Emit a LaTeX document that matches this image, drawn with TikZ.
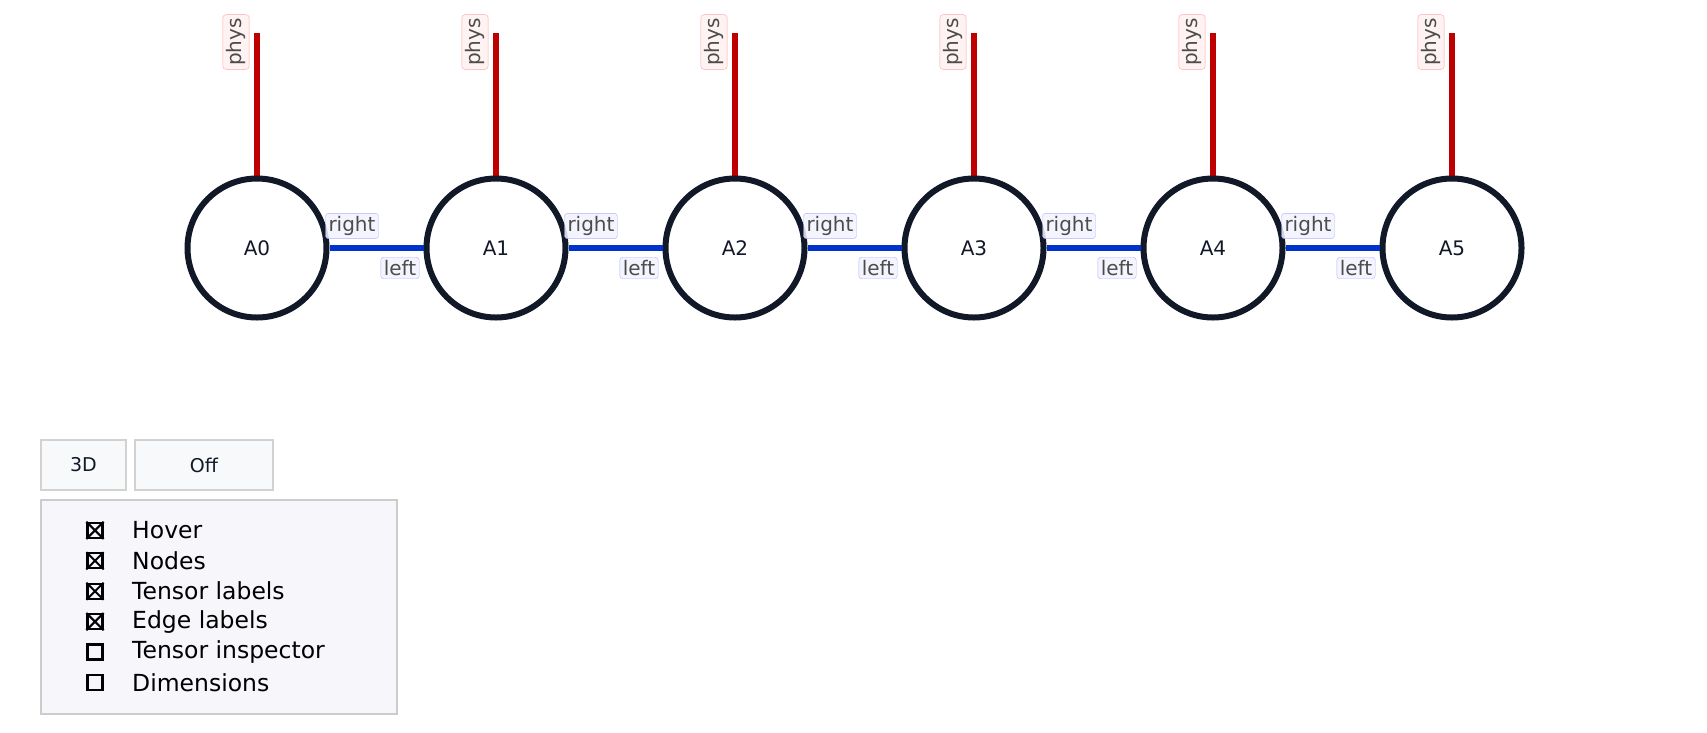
\documentclass[tikz,border=0pt]{standalone}
\usepackage{fontspec}
\setmainfont{DejaVu Sans}
\definecolor{panelbg}{RGB}{247,247,251}
\definecolor{btnbg}{RGB}{247,249,251}
\definecolor{ink}{RGB}{17,24,39}
\begin{document}
\begin{tikzpicture}[x=1pt,y=-1pt,
  tn/.style={circle,draw=ink,line width=6pt,fill=white,minimum size=139pt,inner sep=0pt,font=\fontsize{20}{24}\selectfont,text=ink},
  phys/.style={draw=red!75!black,line width=6pt},
  bond/.style={draw=blue!75!cyan!80!black,line width=6pt},
  plab/.style={draw=red!35,fill=red!5,rounded corners=3pt,font=\fontsize{20}{23}\selectfont,text=black!70,inner sep=3.5pt,rotate=90},
  blab/.style={draw=blue!30,fill=blue!5,fill opacity=0.85,text opacity=1,rounded corners=3pt,font=\fontsize{20}{23}\selectfont,text=black!70,inner sep=3pt},
  btn/.style={draw=gray!35,line width=1.3pt,fill=btnbg,font=\fontsize{19}{22}\selectfont,text=ink,minimum height=50pt},
  cb/.style={draw=black,line width=2.2pt,minimum size=15pt,inner sep=0pt},
  itm/.style={anchor=west,font=\fontsize{23.5}{26}\selectfont,inner sep=0pt}]
\useasboundingbox (0,0) rectangle (1707,732);
\foreach \i in {0,...,5}{
  \coordinate (t\i) at (257+239*\i,33);
  \draw[phys] (t\i) -- (257+239*\i,180);
  \node[plab] (p\i) at (236+239*\i,42) {phys};
}
\foreach \i in {0,...,5}{
  \node[tn] (A\i) at (257+239*\i,248) {A\i};
}
\foreach \i [evaluate=\i as \j using int(\i+1)] in {0,...,4}{
  \draw[bond] (A\i) -- (A\j);
  \node[blab] (r\i) at (352+239*\i,226) {right};
  \node[blab] (l\i) at (400+239*\i,268) {left};
}
\node[btn,minimum width=85pt] (b3d) at (83.5,465) {3D};
\node[btn,minimum width=138pt] (boff) at (204,465) {Off};
\node[draw=gray!40,fill=panelbg,line width=1.3pt,minimum width=356pt,minimum height=214pt] (panel) at (219,607) {};
\foreach \t [count=\k] in {Hover,Nodes,Tensor labels,Edge labels,Tensor inspector,Dimensions}{
  \node[cb] (c\k) at (95,500+30.4*\k) {};
  \node[itm] (i\k) at (132,500+30.4*\k) {\t};
}
\foreach \k in {1,...,4}{
  \draw[line width=2pt] (c\k.north west) -- (c\k.south east) (c\k.north east) -- (c\k.south west);
}
\end{tikzpicture}
\end{document}
